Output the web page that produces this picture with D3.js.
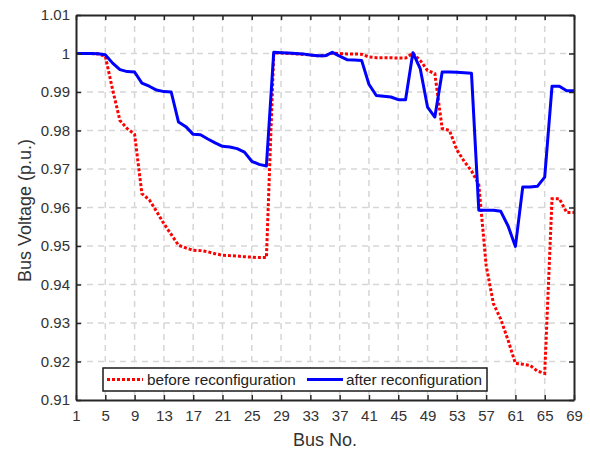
<!DOCTYPE html>
<html>
<head>
<meta charset="utf-8">
<style>
  body { margin: 0; background: #fff; }
  svg text { font-family: "Liberation Sans", Arial, sans-serif; fill: #333; }
</style>
</head>
<body>
<svg width="590" height="453"></svg>
<script src="https://d3js.org/d3.v7.min.js"></script>
<script>
// bus voltages (p.u.) for the 69-bus feeder
const buses = d3.range(1, 70);
const before = [
  1.0, 1.0, 1.0, 0.9999, 0.9993, 0.9906, 0.9826, 0.9805, 0.9790, 0.9636,
  0.9620, 0.9590, 0.9558, 0.9530, 0.9502, 0.9495, 0.9489, 0.9488, 0.9485, 0.9480,
  0.9476, 0.9475, 0.9474, 0.9472, 0.9471, 0.9470, 0.9470, 1.0001, 1.0001, 1.0000,
  0.9999, 0.9998, 0.9996, 0.9994, 0.9994, 1.0001, 1.0000, 0.9999, 0.9999, 0.9998,
  0.9991, 0.9989, 0.9989, 0.9989, 0.9988, 0.9988, 1.0001, 0.9982, 0.9956, 0.9948,
  0.9805, 0.9800, 0.9750, 0.9720, 0.9695, 0.9660, 0.9450, 0.9350, 0.9310, 0.9255,
  0.9195, 0.9193, 0.9190, 0.9175, 0.9169, 0.9623, 0.9623, 0.9587, 0.9587
];
const after = [
  1.0, 1.0, 1.0, 0.99995, 0.9997, 0.9975, 0.9958, 0.9953, 0.9952, 0.9923,
  0.9915, 0.9905, 0.9901, 0.9900, 0.9822, 0.9810, 0.9790, 0.9789, 0.9778, 0.9768,
  0.9759, 0.9757, 0.9753, 0.9744, 0.9720, 0.9712, 0.9708, 1.0003, 1.0002, 1.0001,
  1.0000, 0.9999, 0.9996, 0.9994, 0.9994, 1.0003, 0.9993, 0.9984, 0.9983, 0.9982,
  0.9920, 0.9891, 0.9889, 0.9887, 0.9880, 0.9880, 1.0002, 0.9961, 0.9861, 0.9835,
  0.9952, 0.9952, 0.9951, 0.9950, 0.9949, 0.9593, 0.9593, 0.9593, 0.9590, 0.9552,
  0.9499, 0.9653, 0.9653, 0.9655, 0.9679, 0.9915, 0.9915, 0.9903, 0.9903
];
const xTicks = d3.range(1, 70, 4);
const yTicks = d3.range(0, 11).map(i => +(0.91 + i * 0.01).toFixed(2));
const seriesNames = ["before reconfiguration", "after reconfiguration"];

const svg = d3.select("svg");
const m = { left: 76, right: 16, top: 15, bottom: 53 };
const W = 590, H = 453;

const x = d3.scaleLinear().domain([1, 69]).range([m.left, W - m.right]);
const y = d3.scaleLinear().domain([0.91, 1.01]).range([H - m.bottom, m.top]);

// grid
const grid = svg.append("g").attr("stroke", "#d6d6d6").attr("stroke-width", 1.5)
  .attr("stroke-dasharray", "6,5");
grid.selectAll(".vx").data(xTicks.slice(1, -1)).enter().append("line")
  .attr("x1", d => x(d)).attr("x2", d => x(d))
  .attr("y1", y(1.01)).attr("y2", y(0.91));
grid.selectAll(".hy").data(yTicks.slice(1, -1)).enter().append("line")
  .attr("x1", x(1)).attr("x2", x(69))
  .attr("y1", d => y(d)).attr("y2", d => y(d));

// lines
const line = d3.line().x((d, i) => x(buses[i])).y(d => y(d));
svg.append("path").datum(before)
  .attr("fill", "none").attr("stroke", "#ff0000").attr("stroke-width", 3)
  .attr("stroke-dasharray", "3,2").attr("d", line);
svg.append("path").datum(after)
  .attr("fill", "none").attr("stroke", "#0000ff").attr("stroke-width", 3)
  .attr("stroke-linejoin", "round").attr("d", line);

// axes (ticks inward, box on)
const fmtY = d => d === 1 ? "1" : d3.format(".2f")(d);
const axB = svg.append("g").attr("transform", `translate(0,${y(0.91)})`)
  .call(d3.axisBottom(x).tickValues(xTicks).tickSizeInner(-5).tickSizeOuter(0).tickPadding(10));
const axL = svg.append("g").attr("transform", `translate(${x(1)},0)`)
  .call(d3.axisLeft(y).tickValues(yTicks).tickFormat(fmtY).tickSizeInner(-5).tickSizeOuter(0).tickPadding(6));
const axT = svg.append("g").attr("transform", `translate(0,${y(1.01)})`)
  .call(d3.axisTop(x).tickValues(xTicks).tickSizeInner(-5).tickSizeOuter(0).tickFormat(""));
const axR = svg.append("g").attr("transform", `translate(${x(69)},0)`)
  .call(d3.axisRight(y).tickValues(yTicks).tickSizeInner(-5).tickSizeOuter(0).tickFormat(""));
[axB, axL, axT, axR].forEach(a => {
  a.select(".domain").attr("stroke", "#262626").attr("stroke-width", 2);
  a.selectAll(".tick line").attr("stroke", "#262626").attr("stroke-width", 1.5);
  a.selectAll("text").attr("font-size", 15).attr("fill", "#404040")
    .style("font-family", "'Liberation Sans', Arial, sans-serif");
});

// axis titles
svg.append("text").attr("x", (x(1) + x(69)) / 2).attr("y", 446)
  .attr("text-anchor", "middle").attr("font-size", 18).style("fill", "#333").text("Bus No.");
svg.append("text").attr("transform", `translate(31,${(y(0.91) + y(1.01)) / 2 + 3}) rotate(-90)`)
  .attr("text-anchor", "middle").attr("font-size", 18).style("fill", "#333").text("Bus Voltage (p.u.)");

// legend
const lg = svg.append("g");
lg.append("rect").attr("x", 103).attr("y", 368).attr("width", 384).attr("height", 23)
  .attr("fill", "#fff").attr("stroke", "#1a1a1a").attr("stroke-width", 1.5);
const lgItems = [
  { name: seriesNames[0], color: "#ff0000", dash: "3,2", x0: 107, tx: 147 },
  { name: seriesNames[1], color: "#0000ff", dash: null, x0: 307, tx: 346 }
];
lgItems.forEach(it => {
  lg.append("line").attr("x1", it.x0).attr("x2", it.x0 + 36).attr("y1", 379.5).attr("y2", 379.5)
    .attr("stroke", it.color).attr("stroke-width", 3).attr("stroke-dasharray", it.dash);
  lg.append("text").attr("x", it.tx).attr("y", 385).attr("font-size", 15.3)
    .style("fill", "#222").text(it.name);
});
</script>
</body>
</html>
